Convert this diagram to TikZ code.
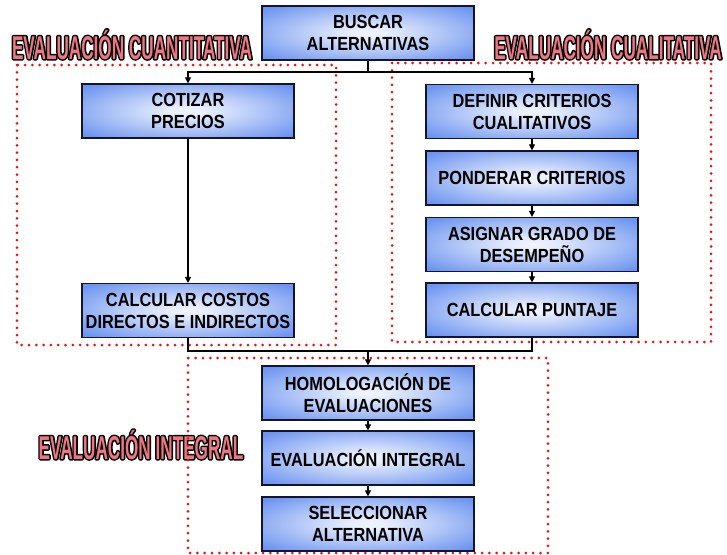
\documentclass[tikz,border=0pt]{standalone}
\usepackage{fontspec}
\usetikzlibrary{arrows.meta}
\newfontfamily\boxfont{Liberation Sans}[FakeStretch=0.86]
\newfontfamily\labfont{Liberation Sans}[FakeStretch=0.52]
\definecolor{bx}{RGB}{108,148,240}
\definecolor{bdr}{RGB}{20,20,45}
\definecolor{labpink}{RGB}{238,118,130}
\definecolor{dotred}{RGB}{235,20,20}
\pgfdeclareradialshading{boxglow}{\pgfpoint{0bp}{0bp}}{color(0bp)=(white!90!bx); color(4bp)=(white!85!bx); color(18bp)=(bx!55!white); color(33bp)=(bx); color(80bp)=(bx)}
\newcommand{\outlinedtext}[1]{\leavevmode\rlap{\special{pdf:literal direct 1 Tr 3 w 1 j 0 0 0 RG}#1\special{pdf:literal direct 0 Tr}}#1}
\tikzset{
  stepbox/.style={draw=bdr, line width=1.2pt, shade, shading=boxglow, minimum width=212pt, minimum height=54pt, inner sep=0pt, align=center, font=\boxfont\bfseries\fontsize{19}{22}\selectfont},
  arr/.style={-{Triangle[width=6pt,length=6pt]}, line width=1.1pt, draw=black},
  zone/.style={draw=dotred, line width=3pt, dash pattern=on 0pt off 7.3pt, line cap=round},
  lab/.style={anchor=base, inner sep=0pt, font=\labfont\bfseries\fontsize{33}{36}\selectfont, text=labpink}
}
\begin{document}
\begin{tikzpicture}[x=1pt,y=-1pt]
\useasboundingbox (0,0) rectangle (727,554);
\fill[white] (0,0) rectangle (727,554);

% labels
\node[lab] (lcuant) at (132,59) {\outlinedtext{EVALUACIÓN CUANTITATIVA}};
\node[lab] (lcual) at (608,59) {\outlinedtext{EVALUACIÓN CUALITATIVA}};
\node[lab] (lint) at (141,459) {\outlinedtext{EVALUACIÓN INTEGRAL}};

% zones
\draw[zone] (17,65) rectangle (336,345);
\draw[zone] (392,63) rectangle (711,342);
\draw[zone] (188,358) rectangle (548,553);

% boxes
\node[stepbox] (buscar) at (368,33) {BUSCAR\\ALTERNATIVAS};
\node[stepbox] (cot) at (188,111) {COTIZAR\\PRECIOS};
\node[stepbox] (costos) at (188,310.5) {CALCULAR COSTOS\\DIRECTOS E INDIRECTOS};
\node[stepbox] (def) at (532,111.5) {DEFINIR CRITERIOS\\CUALITATIVOS};
\node[stepbox] (pond) at (532,178) {PONDERAR CRITERIOS};
\node[stepbox] (asig) at (532,244.5) {ASIGNAR GRADO DE\\DESEMPEÑO};
\node[stepbox] (punt) at (532,310) {CALCULAR PUNTAJE};
\node[stepbox] (homol) at (368,393) {HOMOLOGACIÓN DE\\EVALUACIONES};
\node[stepbox] (evint) at (368,458) {EVALUACIÓN INTEGRAL};
\node[stepbox] (selec) at (368,524) {SELECCIONAR\\ALTERNATIVA};

% connectors
\coordinate (j1) at (368,72);
\coordinate (j2) at (368,351);
\draw[line width=1.1pt] (buscar.south) -- (j1);
\draw[arr] (j1) -| (cot.north);
\draw[arr] (j1) -| (def.north);
\draw[arr] (cot.south) -- (costos.north);
\draw[arr] (def.south) -- (pond.north);
\draw[arr] (pond.south) -- (asig.north);
\draw[arr] (asig.south) -- (punt.north);
\draw[line width=1.1pt] (costos.south) |- (j2);
\draw[line width=1.1pt] (punt.south) |- (j2);
\draw[arr] (j2) -- (homol.north);
\draw[arr] (homol.south) -- (evint.north);
\draw[arr] (evint.south) -- (selec.north);
\end{tikzpicture}
\end{document}
